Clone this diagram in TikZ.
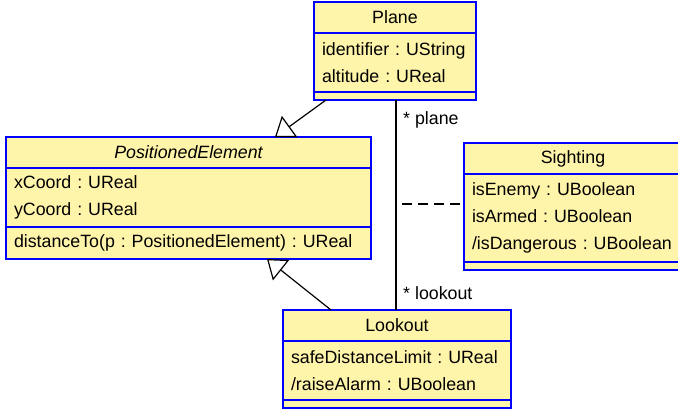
\documentclass[tikz,border=0pt]{standalone}
\usepackage{fontspec}
\setmainfont{Liberation Sans}
\usepackage{xcolor}
\usepackage{tikz}
\usetikzlibrary{positioning}
\usetikzlibrary{arrows.meta}
\frenchspacing
\definecolor{classfill}{RGB}{255,245,170}
\definecolor{classline}{RGB}{0,0,255}
\tikzset{
    part/.style = {rectangle, draw=classline, fill=classfill, line width=1.3pt, outer sep=0pt, inner ysep=0pt},
    titlepart/.style = {part, align=center, inner xsep=0pt, minimum height=31pt},
    attrpart/.style = {part, align=left, inner xsep=8pt},
    link/.style = {draw=black, line width=1.2pt},
    inherit/.style = {link, -{Triangle[open, length=18pt, width=26pt, fill=white]}},
    dashlink/.style = {link, dash pattern=on 10pt off 6pt},
    rolename/.style = {anchor=base west, inner sep=0pt}
}

\begin{document}
\begin{tikzpicture}[x=1pt, y=-1pt, font=\fontsize{17.8}{27}\selectfont]
    \useasboundingbox (0,0) rectangle (678,413);
    \clip (0,0) rectangle (678,413);

    \node [titlepart, minimum width=162pt, anchor=north west] (plane) at (314,2) {Plane};
    \node [attrpart, text width=146pt, minimum height=59pt, below=0pt of plane] (planeattr)
        {identifier : UString\\altitude : UReal};
    \node [part, minimum width=162pt, minimum height=8pt, below=0pt of planeattr] (planeops) {};

    \node [titlepart, minimum width=365pt, anchor=north west] (pe) at (6,137) {\itshape PositionedElement};
    \node [attrpart, text width=349pt, minimum height=59pt, below=0pt of pe] (peattr)
        {xCoord : UReal\\yCoord : UReal};
    \node [attrpart, text width=349pt, minimum height=32pt, below=0pt of peattr] (peops)
        {distanceTo(p : PositionedElement) : UReal};

    \node [titlepart, minimum width=218pt, anchor=north west] (sighting) at (464,143) {Sighting};
    \node [attrpart, text width=202pt, minimum height=88pt, below=0pt of sighting] (sightattr)
        {isEnemy : UBoolean\\isArmed : UBoolean\\/isDangerous : UBoolean};
    \node [part, minimum width=218pt, minimum height=8pt, below=0pt of sightattr] (sightops) {};

    \node [titlepart, minimum width=228pt, anchor=north west] (lookout) at (283,310) {Lookout};
    \node [attrpart, text width=212pt, minimum height=59pt, below=0pt of lookout] (lookattr)
        {safeDistanceLimit : UReal\\/raiseAlarm : UBoolean};
    \node [part, minimum width=228pt, minimum height=8pt, below=0pt of lookattr] (lookops) {};

    \draw [inherit] ([xshift=12pt]planeops.south west) -- ([xshift=269pt]pe.north west);
    \draw [inherit] ([xshift=48pt]lookout.north west) -- ([xshift=261pt]peops.south west);

    \draw [link] ([xshift=82pt]planeops.south west) -- ([xshift=113pt]lookout.north west);
    \coordinate (mid) at (396,204);
    \draw [dashlink] ([xshift=6pt]mid) -- (sightattr.west |- mid);

    \node [rolename] (planerole) at (403,124) {* plane};
    \node [rolename] (lookrole) at (403,299) {* lookout};
\end{tikzpicture}
\end{document}
